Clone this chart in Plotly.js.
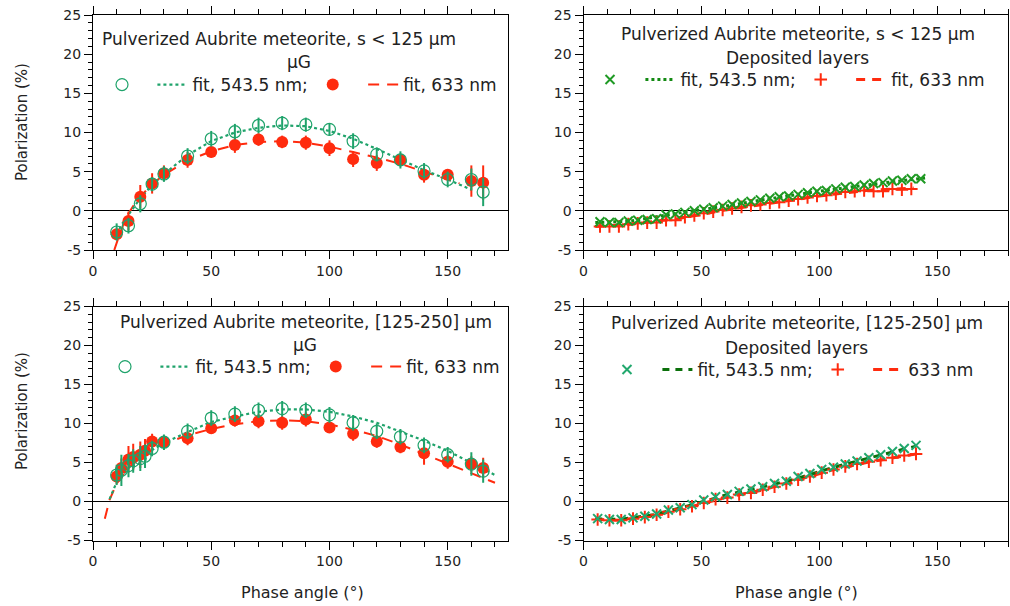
<!DOCTYPE html>
<html>
<head>
<meta charset="utf-8">
<script src="https://cdn.plot.ly/plotly-3.0.1.min.js"></script>
<style>html,body{margin:0;padding:0;background:#fff;}#chart{width:1010px;height:606px;}</style>
</head>
<body>
<div id="chart"></div>
<script>
// ---------- Top-left: s < 125 um, microgravity ----------
const tlAngles = [10,15,20,25,30,40,50,60,70,80,90,100,110,120,130,140,150,160,165];
const tlGreen = [-2.7,-1.9,0.9,3.4,4.7,7.0,9.2,10.1,10.9,11.2,11.0,10.4,8.9,7.2,6.5,5.1,4.0,4.0,2.4];
const tlGreenErr = [1.1,1.0,1.1,0.9,1.0,1.0,1.0,1.0,1.0,0.9,0.9,0.8,1.0,0.9,1.1,1.0,1.0,1.4,1.8];
const tlRed = [-3.0,-1.3,1.8,3.5,4.8,6.5,7.5,8.4,9.1,8.8,8.7,8.0,6.6,6.1,6.5,4.6,4.6,3.8,3.6];
const tlRedErr = [0.7,1.2,1.5,1.3,1.0,1.0,0.7,1.0,0.8,0.8,0.9,1.0,1.0,1.0,0.8,1.0,0.7,2.0,2.2];
const tlGreenFitX = [10,12,15,20,25,30,40,50,60,70,80,90,100,110,120,130,140,150,160];
const tlGreenFitY = [-3.0,-1.8,-0.5,1.6,3.3,4.7,7.1,8.9,10.0,10.6,10.9,10.8,10.2,9.2,7.9,6.5,5.2,4.0,2.7];
const tlRedFitX = [9,11,14,17,20,25,30,40,50,60,70,80,90,100,110,120,130,140,150,155];
const tlRedFitY = [-5.0,-3.2,-0.8,0.6,1.8,3.4,4.6,6.4,7.6,8.4,8.8,8.9,8.7,8.2,7.5,6.8,6.0,5.0,4.0,3.5];

// ---------- Top-right: s < 125 um, deposited layers ----------
const trGreenX = [7,11,15,19,23,27,31,35,39,43,47,51,55,59,63,67,71,75,79,83,87,91,95,99,103,107,111,115,119,123,127,131,135,139,143];
const trGreenY = [-1.4,-1.5,-1.5,-1.3,-1.2,-1.1,-1.0,-0.5,-0.4,-0.2,0.0,0.2,0.4,0.6,0.8,1.0,1.2,1.4,1.6,1.8,1.9,2.1,2.3,2.5,2.6,2.8,3.0,3.1,3.3,3.5,3.6,3.8,3.9,4.1,4.1];
const trRedX = [7,11,15,19,23,27,31,35,39,43,47,51,55,59,63,67,71,75,79,83,87,91,95,99,103,107,111,115,119,123,127,131,135,139];
const trRedY = [-2.0,-2.0,-2.0,-1.7,-1.6,-1.5,-1.5,-1.2,-1.2,-0.8,-0.6,-0.3,-0.1,0.1,0.3,0.5,0.7,0.8,1.0,1.1,1.3,1.5,1.7,1.9,2.0,2.2,2.4,2.5,2.6,2.5,2.5,2.8,2.7,2.8];
const trGreenFitX = [5,20,40,60,80,100,120,145];
const trGreenFitY = [-1.5,-1.3,-0.3,0.6,1.6,2.5,3.3,4.2];
const trRedFitX = [5,20,40,60,80,100,120,140];
const trRedFitY = [-2.0,-1.7,-1.0,0.1,1.0,1.9,2.6,2.9];

// ---------- Bottom-left: [125-250] um, microgravity ----------
const blAngles = [10,12,15,17,20,22,25,30,40,50,60,70,80,90,100,110,120,130,140,150,160,165];
const blGreen = [3.4,4.0,4.6,5.2,5.5,5.8,6.8,7.6,9.0,10.7,11.2,11.7,11.9,11.7,11.1,10.1,9.0,8.3,7.2,6.0,4.8,3.9];
const blGreenErr = [1.3,2.0,1.5,1.5,1.6,1.5,1.0,1.0,1.0,1.0,1.0,1.0,1.0,1.0,1.0,1.0,1.0,1.0,1.0,1.0,1.5,1.5];
const blRed = [3.2,4.3,5.4,5.7,6.0,6.5,7.7,7.6,8.1,9.4,10.4,10.3,10.1,10.5,9.5,8.7,7.7,7.0,6.2,5.1,4.8,4.3];
const blRedErr = [1.0,1.2,1.7,1.7,1.7,1.5,1.0,0.8,0.9,0.7,0.8,0.9,0.9,0.9,0.7,0.9,0.8,0.8,1.5,0.9,1.0,1.3];
const blGreenFitX = [7,10,15,20,25,30,40,50,60,70,80,90,100,110,120,130,140,150,160,170];
const blGreenFitY = [0.3,2.5,4.3,5.6,6.6,7.5,8.9,10.2,10.9,11.5,11.8,11.8,11.5,10.9,10.1,9.0,7.8,6.5,5.0,3.4];
const blRedFitX = [5,7,10,15,20,25,30,40,50,60,70,80,90,100,110,120,130,140,150,160,170];
const blRedFitY = [-2.2,0.2,2.3,4.3,5.6,6.6,7.4,8.5,9.3,9.9,10.3,10.4,10.3,9.9,9.2,8.4,7.3,6.1,4.9,3.7,2.4];

// ---------- Bottom-right: [125-250] um, deposited layers ----------
const brAngles = [6,11,16,21,26,31,36,41,46,51,56,61,66,71,76,81,86,91,96,101,106,111,116,121,126,131,136,141];
const brGreen = [-2.2,-2.3,-2.3,-2.1,-1.9,-1.6,-1.1,-0.8,-0.4,0.2,0.6,0.9,1.3,1.6,1.9,2.3,2.6,3.2,3.6,4.1,4.4,4.8,5.2,5.6,6.0,6.4,6.8,7.2];
const brRed = [-2.3,-2.4,-2.4,-2.2,-2.0,-1.7,-1.3,-1.0,-0.6,-0.2,0.3,0.5,0.9,1.1,1.5,1.9,2.3,2.8,3.2,3.7,4.1,4.5,4.8,5.1,5.3,5.6,5.9,6.1];
const brGreenFitX = [5,15,30,45,60,75,90,105,120,141];
const brGreenFitY = [-2.2,-2.3,-1.7,-0.5,0.8,1.8,2.9,4.3,5.5,7.1];
const brRedFitX = [5,15,30,45,60,75,90,105,120,141];
const brRedFitY = [-2.3,-2.4,-1.8,-0.7,0.5,1.4,2.7,4.0,5.0,6.1];

// ---------- labels ----------
const panelTitles = [
  'Pulverized Aubrite meteorite, s < 125 \u03bcm',
  'Pulverized Aubrite meteorite, s < 125 \u03bcm',
  'Pulverized Aubrite meteorite, [125-250] \u03bcm',
  'Pulverized Aubrite meteorite, [125-250] \u03bcm'
];
const panelSubtitles = ['\u03bcG', 'Deposited layers', '\u03bcG', 'Deposited layers'];
const fitGreenName = 'fit, 543.5 nm;';
const fitRedNames = ['fit, 633 nm', 'fit, 633 nm', 'fit, 633 nm', '633 nm'];
const xTitle = 'Phase angle (\u00b0)';
const yTitle = 'Polarization (%)';
const xTickVals = [0, 50, 100, 150];
const xTickText = ['0', '50', '100', '150'];
const yTickVals = [-5, 0, 5, 10, 15, 20, 25];
const yTickText = ['-5', '0', '5', '10', '15', '20', '25'];

// ---------- styling ----------
const FONT = 'DejaVu Sans, Verdana, sans-serif';
const RED = '#ff2b0e';
const GREEN_MG = '#1fa36b';
const GREEN_X = '#1f9a24';
const GREEN_X_LINE = '#138a13';
const GREEN_X2 = '#22a86e';
const GREEN_LINE2 = '#0b700b';
const W = 1010, H = 606;
const px = v => v / W;
const py = v => 1 - v / H;

const traces = [];
function mg(ax, lg, ang, gY, gE, rY, rE, gFx, gFy, rFx, rFy, redName) {
  traces.push({x: rFx, y: rFy, xaxis: 'x' + ax, yaxis: 'y' + ax, mode: 'lines', name: redName, legend: lg, legendrank: 4,
    line: {color: RED, width: 2, dash: '11px,8px'}, hoverinfo: 'skip'});
  traces.push({x: gFx, y: gFy, xaxis: 'x' + ax, yaxis: 'y' + ax, mode: 'lines', name: fitGreenName, legend: lg, legendrank: 2,
    line: {color: GREEN_MG, width: 2.2, dash: 'dot'}, hoverinfo: 'skip'});
  traces.push({x: ang, y: rY, xaxis: 'x' + ax, yaxis: 'y' + ax, mode: 'markers', name: ' ', legend: lg, legendrank: 3,
    marker: {symbol: 'circle', size: 12, color: RED},
    error_y: {type: 'data', array: rE, visible: true, color: RED, thickness: 2, width: 0}});
  traces.push({x: ang, y: gY, xaxis: 'x' + ax, yaxis: 'y' + ax, mode: 'markers', name: ' ', legend: lg, legendrank: 1,
    marker: {symbol: 'circle-open', size: 12, color: GREEN_MG, line: {width: 1.2}},
    error_y: {type: 'data', array: gE, visible: true, color: GREEN_MG, thickness: 2, width: 0}});
}
function dep(ax, lg, gX, gY, rX, rY, gFx, gFy, rFx, rFy, gCol, gLine, gDash, redName) {
  traces.push({x: rFx, y: rFy, xaxis: 'x' + ax, yaxis: 'y' + ax, mode: 'lines', name: redName, legend: lg, legendrank: 4,
    line: {color: RED, width: 3, dash: '9px,7px'}, hoverinfo: 'skip'});
  traces.push({x: gFx, y: gFy, xaxis: 'x' + ax, yaxis: 'y' + ax, mode: 'lines', name: fitGreenName, legend: lg, legendrank: 2,
    line: {color: gLine, width: 3, dash: gDash}, hoverinfo: 'skip'});
  traces.push({x: rX, y: rY, xaxis: 'x' + ax, yaxis: 'y' + ax, mode: 'markers', name: ' ', legend: lg, legendrank: 3,
    marker: {symbol: 'cross-thin', size: 9, color: RED, line: {color: RED, width: 2}}});
  traces.push({x: gX, y: gY, xaxis: 'x' + ax, yaxis: 'y' + ax, mode: 'markers', name: ' ', legend: lg, legendrank: 1,
    marker: {symbol: 'x-thin', size: 9, color: gCol, line: {color: gCol, width: 2}}});
}

mg('', 'legend', tlAngles, tlGreen, tlGreenErr, tlRed, tlRedErr, tlGreenFitX, tlGreenFitY, tlRedFitX, tlRedFitY, fitRedNames[0]);
dep('2', 'legend2', trGreenX, trGreenY, trRedX, trRedY, trGreenFitX, trGreenFitY, trRedFitX, trRedFitY, GREEN_X, GREEN_X_LINE, 'dot', fitRedNames[1]);
mg('3', 'legend3', blAngles, blGreen, blGreenErr, blRed, blRedErr, blGreenFitX, blGreenFitY, blRedFitX, blRedFitY, fitRedNames[2]);
dep('4', 'legend4', brAngles, brGreen, brAngles, brRed, brGreenFitX, brGreenFitY, brRedFitX, brRedFitY, GREEN_X2, GREEN_LINE2, '7px,6px', fitRedNames[3]);

function xAxis(dom, anchor, maxX) {
  return {domain: dom, anchor: anchor, range: [0, maxX], tickmode: 'array', tickvals: xTickVals, ticktext: xTickText,
    ticks: 'outside', ticklen: 8, tickwidth: 1,
    tickcolor: '#000', showline: true, linecolor: '#000', linewidth: 1, mirror: 'ticks', showgrid: false, zeroline: false,
    minor: {dtick: 10, tick0: 0, ticks: 'outside', ticklen: 5, tickwidth: 1, tickcolor: '#000', showgrid: false},
    tickfont: {family: FONT, size: 14, color: '#222'}, fixedrange: true};
}
function yAxis(dom, anchor) {
  return {domain: dom, anchor: anchor, range: [-5, 25], tickmode: 'array', tickvals: yTickVals, ticktext: yTickText,
    ticks: 'outside', ticklen: 8, tickwidth: 1,
    tickcolor: '#000', showline: true, linecolor: '#000', linewidth: 1, mirror: true, showgrid: false,
    zeroline: true, zerolinecolor: '#000', zerolinewidth: 1,
    minor: {dtick: 1, tick0: 0, ticks: 'outside', ticklen: 4, tickwidth: 1, tickcolor: '#000', showgrid: false},
    tickfont: {family: FONT, size: 14, color: '#222'}, fixedrange: true};
}
const xL = [px(93), px(508)], xR = [px(583.5), px(1008)];
const yT = [py(250), py(15)], yB = [py(540.5), py(306.5)];

function legendAt(x, y) {
  return {x: px(x), y: py(y), xanchor: 'left', yanchor: 'middle', orientation: 'h', bgcolor: 'rgba(0,0,0,0)',
    borderwidth: 0, font: {family: FONT, size: 17, color: '#222'}, traceorder: 'normal', itemclick: false, itemdoubleclick: false};
}

const annText = (t, x, y, size) => ({text: t, x: px(x), y: py(y), xref: 'paper', yref: 'paper', showarrow: false,
  xanchor: 'center', yanchor: 'middle', font: {family: FONT, size: size, color: '#222'}});

const annotations = [
  annText(panelTitles[0], 279, 39, 17), annText(panelSubtitles[0], 299, 62, 17),
  annText(panelTitles[1], 798, 34, 17), annText(panelSubtitles[1], 797, 58, 17),
  annText(panelTitles[2], 306, 322, 17), annText(panelSubtitles[2], 305, 345, 17),
  annText(panelTitles[3], 797, 323, 17), annText(panelSubtitles[3], 796, 348, 17),
  annText(xTitle, 302, 592, 16), annText(xTitle, 796, 592, 16),
  Object.assign(annText(yTitle, 22, 122, 15), {textangle: -90}),
  Object.assign(annText(yTitle, 22, 411, 15), {textangle: -90})
];

const layout = {
  width: W, height: H, margin: {l: 0, r: 0, t: 0, b: 0}, paper_bgcolor: '#fff', plot_bgcolor: '#fff',
  font: {family: FONT, color: '#222'}, showlegend: true,
  xaxis: xAxis(xL, 'y', 175.5), yaxis: yAxis(yT, 'x'),
  xaxis2: xAxis(xR, 'y2', 180), yaxis2: yAxis(yT, 'x2'),
  xaxis3: xAxis(xL, 'y3', 175.5), yaxis3: yAxis(yB, 'x3'),
  xaxis4: xAxis(xR, 'y4', 180), yaxis4: yAxis(yB, 'x4'),
  legend: legendAt(102, 85), legend2: legendAt(590, 80), legend3: legendAt(105, 367), legend4: legendAt(607, 370),
  annotations: annotations
};

Plotly.newPlot('chart', traces, layout, {displayModeBar: false, staticPlot: true});
</script>
</body>
</html>
